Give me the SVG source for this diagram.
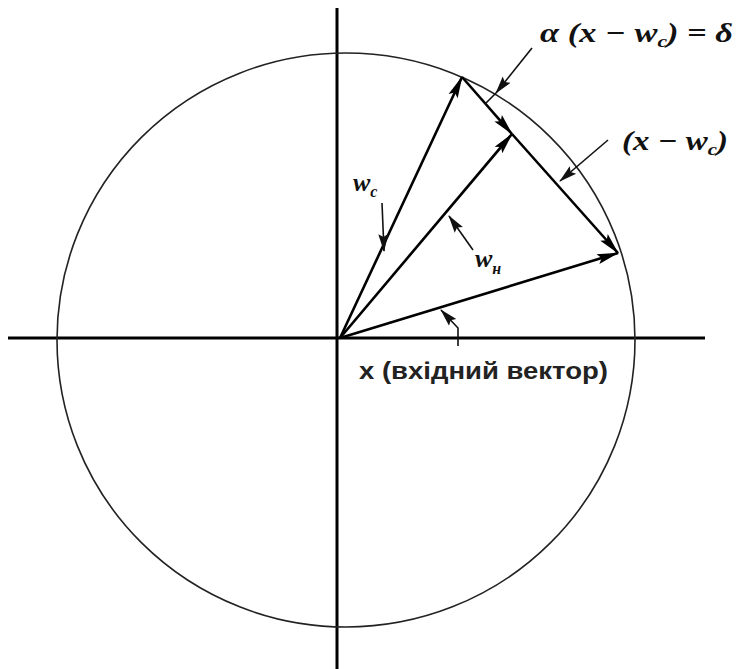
<svg xmlns="http://www.w3.org/2000/svg" width="736" height="669" viewBox="0 0 736 669">
<style>
.axis{stroke:#000;stroke-width:3;fill:none}
.circ{stroke:#222;stroke-width:1.6;fill:none}
.vec{stroke:#000;stroke-width:2.6;fill:none}
.lead{stroke:#111;stroke-width:1.6;fill:none}
.math{font-family:"Liberation Serif","DejaVu Serif",serif;font-style:italic;font-weight:bold;fill:#111}
.lbl{font-family:"Liberation Sans","DejaVu Sans",sans-serif;font-weight:bold;fill:#222}
</style>
<defs>
<marker id="ah" viewBox="0 -6 22 12" refX="21" refY="0" markerWidth="22" markerHeight="12" markerUnits="userSpaceOnUse" orient="auto">
<path d="M0,-5 L22,0 L0,5 L4,0 z" fill="#000"/>
</marker>
<marker id="ahs" viewBox="0 -6 18 12" refX="17" refY="0" markerWidth="18" markerHeight="12" markerUnits="userSpaceOnUse" orient="auto">
<path d="M0,-5 L18,0 L0,5 L3,0 z" fill="#111"/>
</marker>
</defs>
<g id="axes">
<line class="axis" x1="337" y1="8" x2="337" y2="669"/>
<line class="axis" x1="8" y1="338" x2="705" y2="338"/>
</g>
<g id="circle">
<ellipse class="circ" cx="346" cy="340" rx="289" ry="287"/>
</g>
<g id="connectors">
<line id="vec-wc" class="vec" x1="340" y1="338" x2="462" y2="77" marker-end="url(#ah)"/>
<line id="vec-x" class="vec" x1="340" y1="338" x2="618" y2="253" marker-end="url(#ah)"/>
<line id="vec-wn" class="vec" x1="340" y1="338" x2="512" y2="134" marker-end="url(#ah)"/>
<line id="vec-delta" class="vec" x1="462" y1="77" x2="512" y2="134" marker-end="url(#ah)"/>
<line id="vec-diff" class="vec" x1="512" y1="134" x2="618" y2="253" marker-end="url(#ah)"/>
<line class="lead" x1="532" y1="48" x2="496" y2="93" marker-end="url(#ahs)"/>
<line class="lead" x1="496" y1="93" x2="485" y2="104"/>
<line class="lead" x1="608" y1="140" x2="560" y2="181" marker-end="url(#ahs)"/>
<line class="lead" x1="382" y1="203" x2="384" y2="251" marker-end="url(#ahs)"/>
<line class="lead" x1="473" y1="250" x2="449" y2="216" marker-end="url(#ahs)"/>
<polyline class="lead" points="458,346 458,328 441,310" marker-end="url(#ahs)"/>
</g>
<g id="label-delta">
<text class="math" x="540" y="42" font-size="27" textLength="193" lengthAdjust="spacingAndGlyphs">α (x − w<tspan font-size="17" dy="5">c</tspan><tspan dy="-5">) = δ</tspan></text>
</g>
<g id="label-diff">
<text class="math" x="622" y="150" font-size="27" textLength="106" lengthAdjust="spacingAndGlyphs">(x − w<tspan font-size="17" dy="5">c</tspan><tspan dy="-5">)</tspan></text>
</g>
<g id="label-wc">
<text class="math" x="353" y="191" font-size="26">w<tspan font-size="16" dy="6">c</tspan></text>
</g>
<g id="label-wn">
<text class="math" x="475" y="267" font-size="26">w<tspan font-size="16" dy="7">н</tspan></text>
</g>
<g id="label-x">
<text class="lbl" x="359" y="379" font-size="23" textLength="249" lengthAdjust="spacingAndGlyphs">x (вхідний вектор)</text>
</g>
</svg>
